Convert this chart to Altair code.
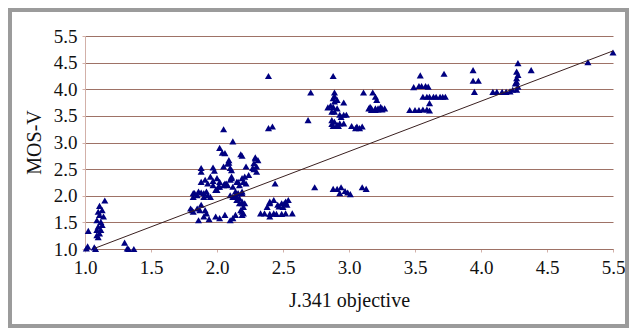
import altair as alt
import pandas as pd

# Cluster A (x ~ 1.0-1.4)
a_x = [1.15, 1.11, 1.13, 1.10, 1.11, 1.14, 1.09, 1.12, 1.13, 1.10, 1.09, 1.12, 1.11, 1.09, 1.10, 1.025,
       1.01, 1.02, 1.07, 1.08, 1.30, 1.32, 1.33, 1.37]
a_y = [1.91, 1.81, 1.73, 1.70, 1.64, 1.61, 1.54, 1.51, 1.45, 1.42, 1.36, 1.36, 1.29, 1.26, 1.22, 1.34,
       1.01, 1.05, 1.03, 1.00, 1.12, 1.01, 1.00, 1.00]

# Cluster B (x ~ 1.8-2.35)
b_x = [2.05, 2.12, 2.02, 2.04, 2.06, 2.09, 2.09, 2.18, 2.19, 2.29, 2.31, 2.29, 2.28, 2.30, 2.28, 2.30, 2.22, 2.27,
       1.88, 1.88, 1.97, 2.08, 2.10, 2.05, 2.11, 1.98,
       1.95, 1.97, 2.00, 2.02, 1.97, 2.02, 2.00, 1.88, 1.91, 1.93, 2.05, 2.07, 2.10, 2.11, 2.12, 2.16, 2.19, 2.21,
       2.24, 2.14, 2.16, 2.10, 2.12, 2.15, 2.19, 2.19, 2.11, 2.15, 2.17, 2.20, 2.22, 2.06, 2.08, 2.01, 1.99,
       1.82, 1.85, 1.86, 1.88, 1.90, 1.93, 1.95, 1.83, 1.82, 1.90, 1.92, 2.14, 2.15, 2.17,
       1.81, 1.82, 1.85, 1.87, 1.88, 1.91, 1.92, 1.80, 1.86, 1.90, 1.94, 1.99, 2.02, 2.06, 2.10, 2.12, 2.14,
       2.19, 2.20, 2.17, 2.19, 2.21, 2.19, 2.20, 2.18, 2.19]
b_y = [3.25, 3.02, 2.90, 2.81, 2.80, 2.67, 2.62, 2.78, 2.75, 2.70, 2.67, 2.72, 2.61, 2.55, 2.50, 2.45, 2.55, 2.52,
       2.52, 2.45, 2.53, 2.60, 2.52, 2.55, 2.48, 2.47,
       2.36, 2.28, 2.33, 2.26, 2.20, 2.17, 2.11, 2.26, 2.30, 2.23, 2.20, 2.23, 2.30, 2.36, 2.17, 2.26, 2.33, 2.36,
       2.39, 2.08, 2.05, 2.01, 1.98, 1.98, 2.05, 2.08, 2.33, 2.26, 2.20, 2.26, 2.23, 2.23, 2.20, 2.17, 2.11,
       2.05, 2.01, 2.08, 2.06, 1.98, 2.01, 1.98, 2.05, 1.98, 2.05, 2.08, 2.01, 1.92, 1.95,
       1.73, 1.70, 1.76, 1.73, 1.83, 1.73, 1.67, 1.76, 1.54, 1.61, 1.56, 1.61, 1.58, 1.64, 1.54, 1.58, 1.64,
       1.64, 1.67, 1.86, 1.89, 1.86, 1.86, 1.79, 1.73, 1.70]

# Cluster C (x ~ 2.3-2.6)
c_x = [2.39, 2.39, 2.42, 2.44, 2.40, 2.43, 2.46, 2.49, 2.52, 2.54, 2.50, 2.53, 2.38, 2.36, 2.40, 2.43, 2.45,
       2.49, 2.52, 2.57, 2.33, 2.40, 2.40, 2.47, 2.51]
c_y = [4.25, 3.27, 3.30, 2.23, 1.89, 1.92, 1.83, 1.86, 1.89, 1.92, 1.79, 1.83, 1.79, 1.67, 1.66, 1.67, 1.66,
       1.66, 1.67, 1.67, 1.67, 1.61, 1.86, 1.80, 1.86]

# Cluster D (x ~ 2.7-3.3)
d_x = [2.74, 2.88, 2.91, 2.94, 2.93, 2.97, 2.99, 3.01, 3.10, 3.13,
       2.88, 2.71, 2.89, 2.89, 2.88, 2.91, 2.89, 2.96, 3.11, 3.18, 3.20, 3.21,
       2.84, 2.86, 2.88, 2.89, 2.87, 2.93, 2.91, 2.96, 2.98, 2.94, 2.69,
       2.87, 2.89, 2.87, 2.91, 2.93, 2.96, 2.88, 2.92, 3.02, 3.06, 3.08, 3.10, 3.05,
       3.15, 3.17, 3.20, 3.22, 3.25, 3.27, 3.17, 3.20, 3.22, 3.25, 3.16, 3.24]
d_y = [2.16, 2.13, 2.13, 2.16, 2.05, 2.09, 2.06, 2.03, 2.16, 2.13,
       4.25, 3.94, 3.94, 3.87, 3.83, 3.80, 3.77, 3.75, 3.94, 3.94, 3.86, 3.80,
       3.66, 3.69, 3.67, 3.58, 3.58, 3.52, 3.64, 3.52, 3.52, 3.48, 3.42,
       3.42, 3.39, 3.35, 3.33, 3.36, 3.36, 3.31, 3.31, 3.31, 3.30, 3.27, 3.30, 3.27,
       3.64, 3.64, 3.64, 3.64, 3.64, 3.64, 3.61, 3.61, 3.62, 3.62, 3.67, 3.67]

# Cluster E (x ~ 3.45-3.75)
e_x = [3.54, 3.72, 3.49, 3.53, 3.55, 3.58, 3.60,
       3.56, 3.59, 3.61, 3.64, 3.66, 3.69, 3.71, 3.73, 3.61,
       3.46, 3.50, 3.53, 3.56, 3.59, 3.61]
e_y = [4.26, 4.29, 4.04, 4.06, 4.06, 4.06, 4.05,
       3.86, 3.86, 3.86, 3.86, 3.86, 3.86, 3.86, 3.86, 3.74,
       3.61, 3.61, 3.61, 3.62, 3.62, 3.60]

# Cluster F (x ~ 3.9-5.0)
f_x = [3.94, 3.94, 3.98, 3.95, 4.09, 4.12, 4.16, 4.19, 4.22, 4.24, 4.27, 4.28, 4.28, 4.27, 4.28, 4.27,
       4.27, 4.26, 4.38, 4.81, 5.00]
f_y = [4.36, 4.16, 4.16, 3.95, 3.95, 3.95, 3.95, 3.95, 3.96, 3.99, 3.99, 4.05, 4.49, 4.33, 4.27, 4.21,
       4.14, 4.11, 4.36, 4.51, 4.69]

# Trendline endpoints
trend_x = [1.07, 5.00]
trend_y = [1.01, 4.72]

tick_vals = [1.0, 1.5, 2.0, 2.5, 3.0, 3.5, 4.0, 4.5, 5.0]

pts = pd.DataFrame({
    "x": a_x + b_x + c_x + d_x + e_x + f_x,
    "y": a_y + b_y + c_y + d_y + e_y + f_y,
})
trend = pd.DataFrame({"x": trend_x, "y": trend_y})

FONT = "Liberation Serif, serif"
GRID = "#9E7266"
PINK = "#D2B0A8"
label_expr = "datum.value == 5 ? '5.5' : format(datum.value, '.1f')"

xscale = alt.Scale(domain=[1, 5], nice=False, zero=False)
yscale = alt.Scale(domain=[1, 5], nice=False, zero=False)

xaxis = alt.Axis(values=tick_vals, labelExpr=label_expr, grid=False, title="J.341 objective",
                 domainColor=GRID, tickColor=PINK, tickSize=3, labelPadding=6,
                 labelOverlap=False, labelFlush=False,
                 titleY=57, titleBaseline="alphabetic")
yaxis = alt.Axis(values=tick_vals, labelExpr=label_expr, grid=True, gridColor=GRID, gridWidth=1,
                 title="MOS-V", domainColor=PINK, tickColor=PINK, tickSize=3, labelPadding=5,
                 labelOverlap=False, labelFlush=False, labelBound=False,
                 titleX=-45, titleY=106, titleBaseline="alphabetic")

points = alt.Chart(pts).mark_point(shape="triangle-up", filled=True, color="#000080",
                                   size=50, opacity=1).encode(
    x=alt.X("x:Q", scale=xscale, axis=xaxis),
    y=alt.Y("y:Q", scale=yscale, axis=yaxis),
)

line = alt.Chart(trend).mark_line(color="#3a2020", strokeWidth=1).encode(
    x=alt.X("x:Q", scale=xscale, axis=xaxis),
    y=alt.Y("y:Q", scale=yscale, axis=yaxis),
)

border = alt.Chart(alt.Data(values=[{"a": 1}])).mark_rect(
    fill=None, stroke="#9B9B9B", strokeWidth=4
).encode(
    x=alt.value(-75), x2=alt.value(542), y=alt.value(-26), y2=alt.value(290)
)

chart = alt.layer(points, line, border).properties(
    width=528, height=213,
    autosize=alt.AutoSizeParams(type="none"),
    padding={"left": 77, "top": 28, "right": 16, "bottom": 79},
    background="white",
).configure_view(stroke=None).configure_axis(
    labelFont=FONT, labelFontSize=19, labelColor="#111111", labelOverlap=False,
    titleFont=FONT, titleFontSize=20, titleFontWeight="normal", titleColor="#111111",
)

chart.save("out.html", embed_options={"renderer": "svg", "actions": False})
